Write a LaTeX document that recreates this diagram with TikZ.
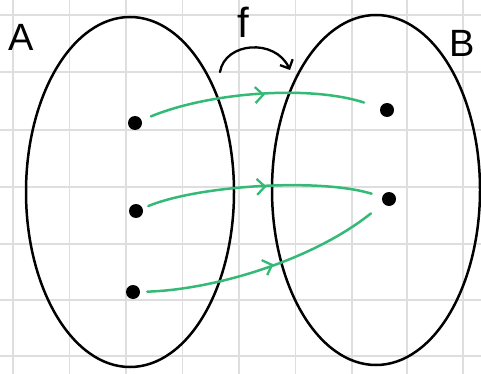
\documentclass[tikz,border=0pt]{standalone}
\usepackage{fontspec}
\setmainfont{Liberation Sans}
\usetikzlibrary{shapes.geometric,arrows.meta,decorations.markings}
\definecolor{mapgreen}{RGB}{52,186,118}
\definecolor{gridgray}{RGB}{222,222,222}
\tikzset{
  setshape/.style={draw=black,line width=2.5pt,ellipse,minimum width=208pt,minimum height=350pt,inner sep=0pt},
  elem/.style={circle,fill=black,minimum size=14pt,inner sep=0pt},
  setlabel/.style={font=\fontsize{38}{38}\selectfont,inner sep=0pt},
  maparrow/.style={draw=mapgreen,line width=2.5pt,line cap=round,
    postaction={decorate},
    decoration={markings,mark=at position 0.52 with {\arrow[mapgreen,line width=2.3pt]{Straight Barb[length=8pt,width=16pt]}}}},
  fnarrow/.style={draw=black,line width=2.3pt,line cap=round,-{Straight Barb[length=7pt,width=14pt]}},
  gridline/.style={draw=gridgray,line width=1.2pt}
}
\begin{document}
\begin{tikzpicture}[x=1pt,y=-1pt]
\useasboundingbox (0,0) rectangle (481,374);
\fill[white] (0,0) rectangle (481,374);
% grid
\foreach \gx in {13,69.5,126,182.5,239,295.5,352,407,463}
  \draw[gridline] (\gx,0) -- (\gx,374);
\foreach \gy in {15,72,130,187,244,300,356}
  \draw[gridline] (0,\gy) -- (481,\gy);
% sets
\node[setshape] (A) at (130,192) {};
\node[setshape] (B) at (376,190) {};
\node[setlabel] (LA) at (21,37) {A};
\node[setlabel] (LB) at (462,43) {B};
\node[setlabel,font=\fontsize{42}{42}\selectfont] (Lf) at (243,22) {f};
% elements
\node[elem] (a1) at (135,123) {};
\node[elem] (a2) at (136,211) {};
\node[elem] (a3) at (133,292) {};
\node[elem] (b1) at (387,110) {};
\node[elem] (b2) at (389,199) {};
% f arrow
\coordinate (fs) at (220,72);
\coordinate (fe) at (290,70);
\draw[fnarrow] (fs) .. controls (225,42) and (275,38) .. (fe);
% mapping arrows
\draw[maparrow,shorten <=10pt,shorten >=17pt] (a1) .. controls (210,92) and (310,85) .. (b1);
\draw[maparrow,shorten <=6pt,shorten >=11pt] (a2) .. controls (200,185) and (320,178) .. (b2);
\draw[maparrow,shorten <=7pt,shorten >=16pt] (a3) .. controls (210,290) and (310,262) .. (b2);
\end{tikzpicture}
\end{document}
